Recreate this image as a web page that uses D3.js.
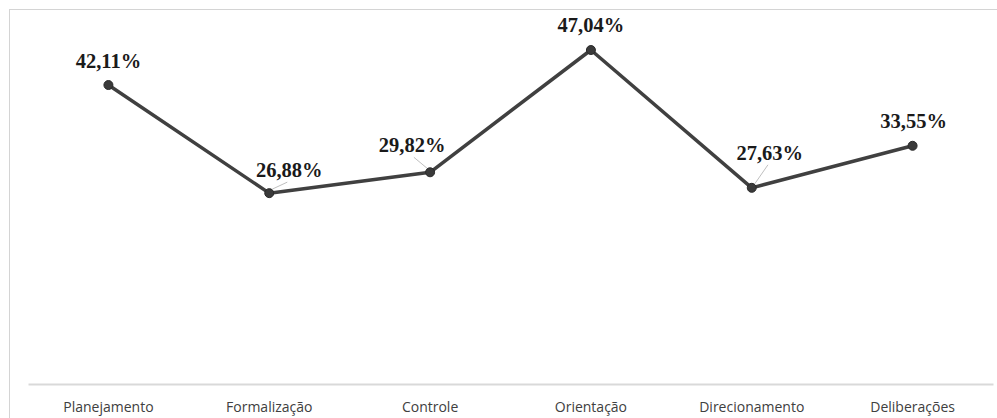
<!DOCTYPE html>
<html><head><meta charset="utf-8">
<script src="https://cdn.jsdelivr.net/npm/d3@7/dist/d3.min.js"></script>
<style>html,body{margin:0;padding:0;background:#fff;overflow:hidden}</style>
</head><body><svg id="c" width="997" height="418"></svg>
<script>
const categories = ["Planejamento","Formalização","Controle","Orientação","Direcionamento","Deliberações"];
const values = [42.11, 26.88, 29.82, 47.04, 27.63, 33.55];
const labels = ["42,11%","26,88%","29,82%","47,04%","27,63%","33,55%"];
// label offsets relative to point (dx, dy of baseline center)
const labelOffsets = [[0,-17],[20,-16],[-18,-20],[0,-18],[18,-28],[1,-18]];
const leader = [false,true,true,false,true,false];

const svg = d3.select("#c");
const x = d3.scaleBand().domain(categories).range([28, 993]);
const y = d3.scaleLinear().domain([0, 50]).range([384, 29]);

// chart border
svg.append("rect").attr("x",9.5).attr("y",9.5).attr("width",1100).attr("height",500)
  .attr("fill","none").attr("stroke","#d4d4d4").attr("stroke-width",1);

// x axis
const ax = svg.append("g").attr("transform","translate(0,384)")
  .call(d3.axisBottom(x).tickSize(0).tickPadding(18));
ax.select(".domain").attr("stroke","#d9d9d9").attr("stroke-width",2);
ax.selectAll("text").attr("font-family","'Open Sans', sans-serif").attr("font-size","14px").attr("fill","#404040");

const cx = d => x(d) + x.bandwidth()/2;
const pts = categories.map((c,i)=>({c, v:values[i], l:labels[i], o:labelOffsets[i], ld:leader[i]}));

// leader lines
svg.selectAll(".ld").data(pts.filter(p=>p.ld)).join("line")
  .attr("x1",p=>cx(p.c)+ (p.o[0]>0?3:-3)).attr("y1",p=>y(p.v)-4)
  .attr("x2",p=>cx(p.c)+p.o[0]*0.9).attr("y2",p=>y(p.v)+p.o[1]+5)
  .attr("stroke","#bfbfbf").attr("stroke-width",1);

// line
svg.append("path").datum(pts)
  .attr("d", d3.line().x(p=>cx(p.c)).y(p=>y(p.v)))
  .attr("fill","none").attr("stroke","#404040").attr("stroke-width",3.5)
  .attr("stroke-linejoin","round");

// markers
svg.selectAll(".m").data(pts).join("circle")
  .attr("cx",p=>cx(p.c)).attr("cy",p=>y(p.v)).attr("r",4.5)
  .attr("fill","#3a3a3a").attr("stroke","#2a2a2a").attr("stroke-width",1);

// labels
svg.selectAll(".lb").data(pts).join("text")
  .attr("x",p=>cx(p.c)+p.o[0]).attr("y",p=>y(p.v)+p.o[1])
  .attr("text-anchor","middle")
  .attr("font-family","'Liberation Serif','Times New Roman',serif")
  .attr("font-weight","bold").attr("font-size","20.5px").attr("fill","#1a1a1a")
  .text(p=>p.l);
</script></body></html>
